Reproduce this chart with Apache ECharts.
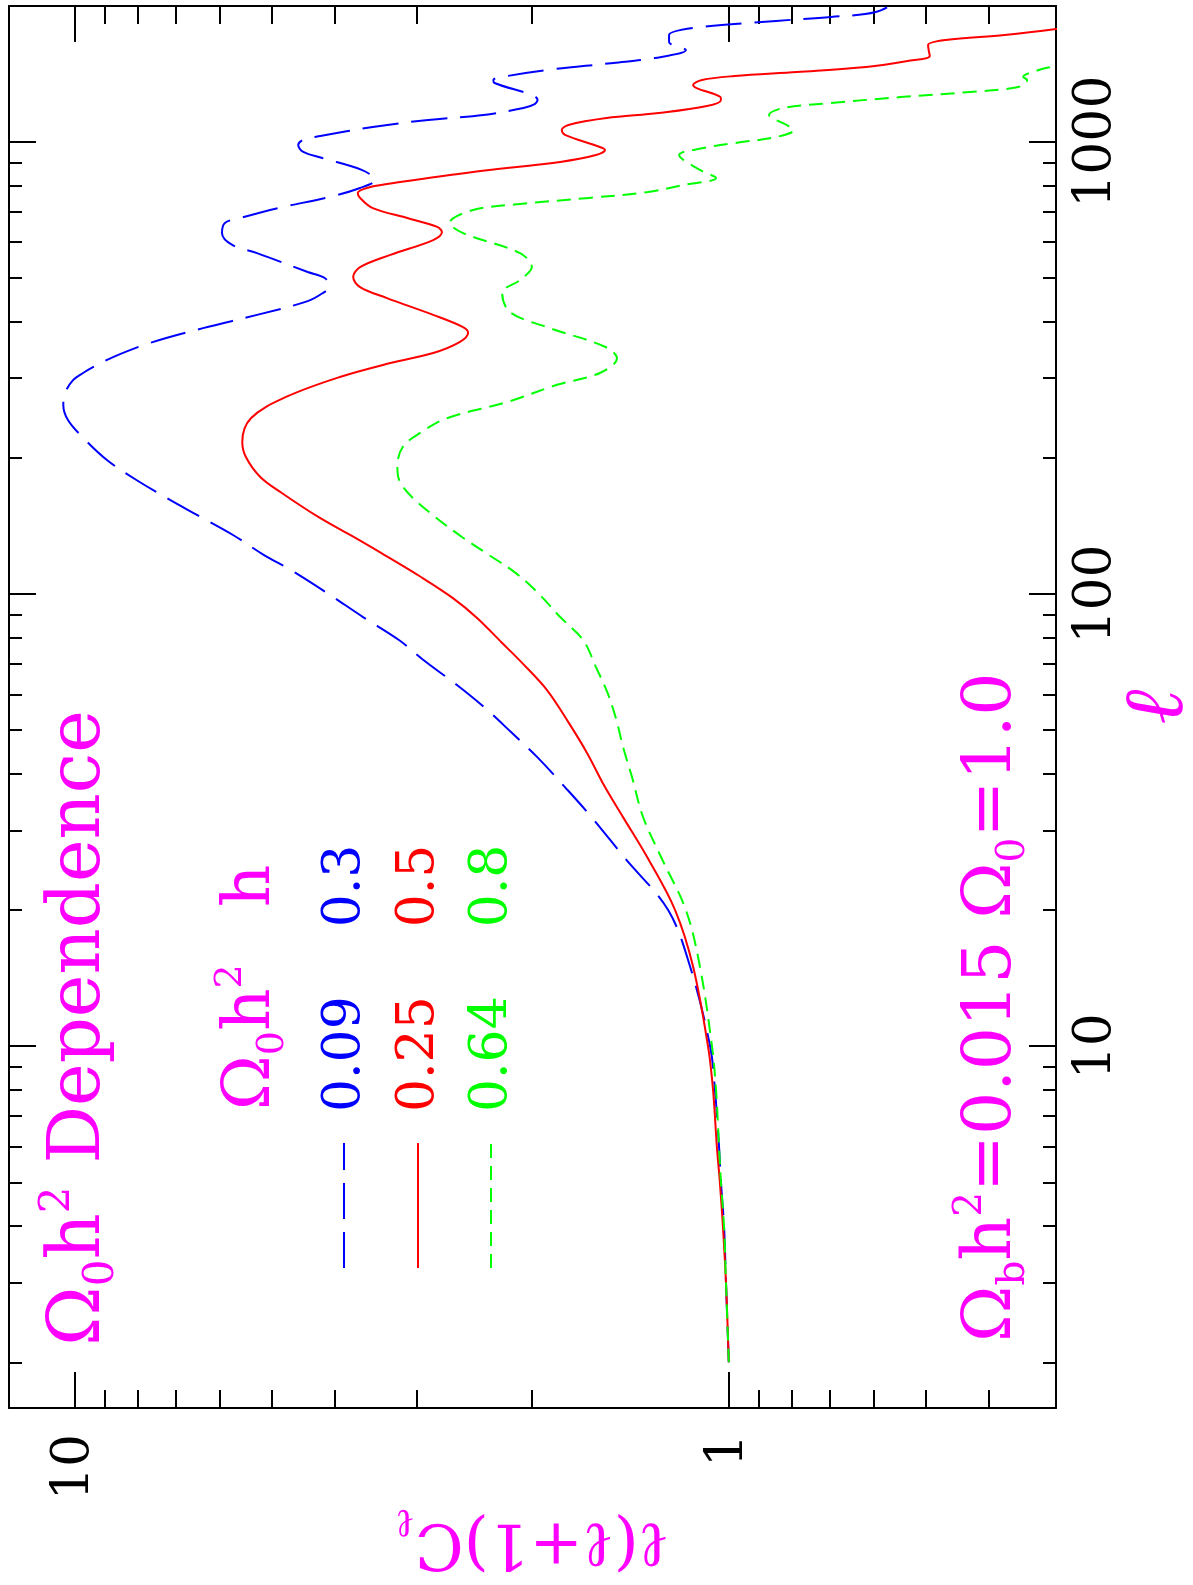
<!DOCTYPE html>
<html>
<head>
<meta charset="utf-8">
<script src="https://cdn.jsdelivr.net/npm/echarts@6/dist/echarts.min.js"></script>
<style>
html,body{margin:0;padding:0;background:#fff;}
#chart{width:1193px;height:1585px;}
</style>
</head>
<body>
<div id="chart"></div>
<script>
// ---- data (l = multipole, C = l(l+1)C_l normalised) ----
const ellBlue = [2,3,4,5,6,8,10,15,20,26,32,37.4,43.4,49.5,56.2,62.9,70.7,79.1,88.9,100.5,112.9,121.9,135,149.5,161.4,178.6,197.8,222.3,242.4,261.7,278,297,308,319,334,359,387,414,444,463,477,499,515,567,591,628,661,678,713,755,790,823,866,920,949,983,1009,1029,1078,1117,1146,1187,1211,1237,1348,1369,1397,1440,1493,1531,1595,1661,1721,1784,1849,1887,1935,2060];
const clBlue = [1.00,1.01,1.017,1.028,1.035,1.05,1.068,1.146,1.238,1.44,1.618,1.78,1.957,2.152,2.366,2.603,2.902,3.192,3.622,4.111,4.667,5.132,5.724,6.498,7.145,8.04,8.92,9.72,10.23,10.40,10.34,10.05,9.70,9.30,8.73,7.66,6.36,5.26,4.40,4.17,4.08,4.14,4.40,5.26,5.74,5.95,5.89,5.58,4.89,4.07,3.66,3.47,3.64,4.18,4.47,4.55,4.47,4.21,3.50,2.88,2.37,2.06,1.98,1.96,2.28,2.29,2.18,1.90,1.50,1.297,1.163,1.234,1.234,1.134,0.847,0.698,0.596,0.547];

const ellRed = [2,3,4,5,6,8,10,15,20,26,32.1,37.4,44.5,51.8,61.3,70.4,77.9,88.5,97.9,109,123.2,135,148,167.2,181.4,200.8,216.8,244.9,272.6,301.8,324,341,361,378,389,414,451,477,502,528,562,606,631,648,678,713,751,770,794,814,857,902,934,958,973,1035,1061,1089,1128,1157,1199,1237,1255,1314,1334,1369,1397,1426,1463,1508,1547,1595,1636,1678,1721,1775,1800];
const clRed = [1.00,1.01,1.021,1.032,1.043,1.057,1.076,1.134,1.208,1.329,1.451,1.546,1.647,1.755,1.896,2.07,2.22,2.425,2.64,2.954,3.40,3.79,4.24,4.82,5.20,5.47,5.54,5.37,4.75,3.93,3.29,2.83,2.575,2.503,2.548,2.83,3.33,3.66,3.75,3.66,3.29,2.83,2.744,2.79,3.10,3.50,3.66,3.69,3.53,3.18,2.46,1.81,1.596,1.546,1.574,1.78,1.80,1.758,1.538,1.28,1.08,1.028,1.03,1.12,1.134,1.099,0.98,0.787,0.617,0.533,0.493,0.495,0.496,0.466,0.379,0.316,0.30];

const ellGreen = [2,3,4,5,6,8,10,15,20,26,32.1,39.4,45.9,52.6,60.4,68.9,79.1,88.9,100.5,111.3,121.9,133.6,148,163.8,178.6,190.9,211.3,228,245,265.7,290,308,332,352,387,420,463,494.5,528,567,628,661,706,728,751,774,802,831,866,934,968,993,1024,1061,1089,1146,1187,1218,1255,1288,1321,1369,1390,1440,1463,1485];
const clGreen = [1.00,1.01,1.017,1.028,1.035,1.046,1.061,1.107,1.163,1.266,1.352,1.406,1.451,1.485,1.532,1.596,1.67,1.81,1.957,2.118,2.325,2.557,2.81,3.05,3.19,3.21,3.15,2.95,2.69,2.18,1.83,1.574,1.482,1.546,1.876,2.16,2.22,2.085,2.0,2.085,2.548,2.67,2.46,2.085,1.635,1.329,1.175,1.046,1.107,1.191,1.093,0.98,0.847,0.796,0.816,0.868,0.826,0.698,0.546,0.428,0.361,0.35,0.355,0.336,0.322,0.306];

// ---- axis ticks ----
const majorC = [1, 10];
const minorC = [0.4,0.5,0.6,0.7,0.8,0.9,2,3,4,5,6,7,8,9];
const majorL = [10, 100, 1000];
const minorL = [2,3,4,5,6,7,8,9,20,30,40,50,60,70,80,90,200,300,400,500,600,700,800,900];
const cRange = [0.316228, 12.5893];
const lRange = [1.58489, 1995.26];

// ---- legend ----
const legendOmega = ['0.09', '0.25', '0.64'];
const legendH = ['0.3', '0.5', '0.8'];

const MAG = '#ff00ff';
const FONT = 'DejaVu Serif';
const colors = ['#0000ff', '#ff0000', '#00ff00'];
const dashes = [[36, 13], 'solid', [14, 8]];

function zip(c, l) { return c.map((v, i) => [v, l[i]]); }

function xAx(pos, values, len, showLine, labels, extra) {
  return Object.assign({
    type: 'log', logBase: 10, min: cRange[0], max: cRange[1], inverse: true,
    position: pos, gridIndex: 0,
    axisLine: { show: showLine, lineStyle: { color: '#000', width: 2 } },
    axisTick: { show: true, inside: true, length: len, customValues: values, lineStyle: { color: '#000', width: 2 } },
    axisLabel: labels ? { show: true, customValues: values, rotate: 90, margin: 26, padding: [12, 0, 0, 0], color: '#000', fontFamily: FONT, fontSize: 52, formatter: v => String(Math.round(v)) } : { show: false },
    splitLine: { show: false }, minorTick: { show: false }, minorSplitLine: { show: false }
  }, extra || {});
}
function yAx(pos, values, len, showLine, labels, extra) {
  return Object.assign({
    type: 'log', logBase: 10, min: lRange[0], max: lRange[1],
    position: pos, gridIndex: 0,
    axisLine: { show: showLine, lineStyle: { color: '#000', width: 2 } },
    axisTick: { show: true, inside: true, length: len, customValues: values, lineStyle: { color: '#000', width: 2 } },
    axisLabel: labels ? { show: true, customValues: values, rotate: 90, margin: 14, color: '#000', fontFamily: FONT, fontSize: 52, formatter: v => String(Math.round(v)) } : { show: false },
    splitLine: { show: false }, minorTick: { show: false }, minorSplitLine: { show: false }
  }, extra || {});
}

const chart = echarts.init(document.getElementById('chart'), null, { renderer: 'canvas' });

const series = [
  { name: 'blue', data: zip(clBlue, ellBlue) },
  { name: 'red', data: zip(clRed, ellRed) },
  { name: 'green', data: zip(clGreen, ellGreen) }
].map((s, i) => ({
  type: 'line', name: s.name, data: s.data, xAxisIndex: 0, yAxisIndex: 0,
  showSymbol: false, symbol: 'none', smooth: 0.35, clip: true,
  lineStyle: { color: colors[i], width: 2, type: dashes[i] }
}));

const rm = (fs, lh) => ({ fontSize: fs, fontFamily: FONT, fill: MAG, color: MAG, lineHeight: lh });
const graphics = [];
// Title
graphics.push({
  type: 'text', x: 80, y: 1346, rotation: Math.PI / 2,
  style: {
    text: '{m|Ω}{s|0}{m|h}{p|2}{m| Dependence}',
    rich: { m: rm(72, 86), s: Object.assign(rm(42, 46), { verticalAlign: 'bottom' }), p: Object.assign(rm(42, 46), { verticalAlign: 'top' }) },
    align: 'left', verticalAlign: 'middle', textAlign: 'left', textVerticalAlign: 'middle'
  }
});
// legend header
graphics.push({
  type: 'text', x: 252, y: 1110, rotation: Math.PI / 2,
  style: {
    text: '{m|Ω}{s|0}{m|h}{p|2}',
    rich: { m: rm(66, 80), s: Object.assign(rm(38, 42), { verticalAlign: 'bottom' }), p: Object.assign(rm(38, 42), { verticalAlign: 'top' }) },
    align: 'left', verticalAlign: 'middle', textAlign: 'left', textVerticalAlign: 'middle'
  }
});
graphics.push({
  type: 'text', x: 252, y: 886, rotation: Math.PI / 2,
  style: { text: 'h', font: '66px "DejaVu Serif"', fill: MAG, align: 'center', verticalAlign: 'middle', textAlign: 'center', textVerticalAlign: 'middle' }
});
// legend rows
const rowX = [345, 419, 492];
const sampleX = [344, 418, 491];
for (let i = 0; i < 3; i++) {
  graphics.push({
    type: 'text', x: rowX[i], y: 1112, rotation: Math.PI / 2,
    style: { text: legendOmega[i], font: '52px "DejaVu Serif"', fill: colors[i], align: 'left', verticalAlign: 'middle', textAlign: 'left', textVerticalAlign: 'middle' }
  });
  graphics.push({
    type: 'text', x: rowX[i], y: 886, rotation: Math.PI / 2,
    style: { text: legendH[i], font: '52px "DejaVu Serif"', fill: colors[i], align: 'center', verticalAlign: 'middle', textAlign: 'center', textVerticalAlign: 'middle' }
  });
  graphics.push({
    type: 'line', shape: { x1: sampleX[i], y1: 1268, x2: sampleX[i], y2: 1143 },
    style: { stroke: colors[i], lineWidth: 2, lineDash: dashes[i] === 'solid' ? null : dashes[i] }
  });
}
// parameters text
graphics.push({
  type: 'text', x: 992, y: 1342, rotation: Math.PI / 2,
  style: {
    text: '{m|Ω}{s|b}{m|h}{p|2}{m|=0.015 Ω}{s|0}{m|=1.0}',
    rich: { m: rm(68, 82), s: Object.assign(rm(39, 43), { verticalAlign: 'bottom' }), p: Object.assign(rm(39, 43), { verticalAlign: 'top' }) },
    align: 'left', verticalAlign: 'middle', textAlign: 'left', textVerticalAlign: 'middle'
  }
});

const option = {
  backgroundColor: '#fff',
  animation: false,
  grid: { left: 9, right: 137, top: 6, bottom: 177, containLabel: false, outerBoundsMode: 'none' },
  xAxis: [
    xAx('bottom', majorC, 36, true, true, {
      name: '{a|ℓ(ℓ+1)C}{b|ℓ}', nameLocation: 'middle', nameGap: 92, nameRotate: 180, nameMoveOverlap: false,
      nameTextStyle: { color: MAG, fontFamily: FONT, fontSize: 64,
        rich: { a: { color: MAG, fontFamily: FONT, fontSize: 64, lineHeight: 82 }, b: { color: MAG, fontFamily: FONT, fontSize: 40, lineHeight: 50, verticalAlign: 'bottom' } } }
    }),
    xAx('bottom', minorC, 18, false, false),
    xAx('top', majorC, 36, true, false),
    xAx('top', minorC, 18, false, false)
  ],
  yAxis: [
    yAx('right', majorL, 27, true, true, {
      name: 'ℓ', nameLocation: 'middle', nameGap: 62, nameRotate: 90, nameMoveOverlap: false,
      nameTextStyle: { color: MAG, fontFamily: FONT, fontSize: 84, fontStyle: 'italic' }
    }),
    yAx('right', minorL, 13, false, false),
    yAx('left', majorL, 27, true, false),
    yAx('left', minorL, 13, false, false)
  ],
  series: series,
  graphic: { elements: graphics }
};
chart.setOption(option);
</script>
</body>
</html>
